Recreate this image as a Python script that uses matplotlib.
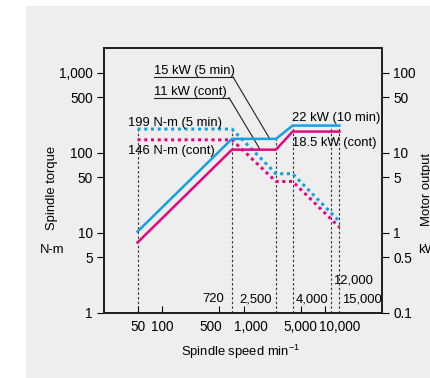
import numpy as np
import matplotlib.pyplot as plt
from matplotlib.patches import Rectangle
from matplotlib.transforms import ScaledTranslation

plt.rcParams['font.family'] = ['Liberation Sans', 'DejaVu Sans']
plt.rcParams['font.size'] = 9.4

BLUE = '#15a0e3'
PINK = '#e5077f'

# motor output (kW) vs spindle speed
speed = [50, 720, 2500, 4000, 15000]
power_5min = [1.04, 15, 15, 22, 22]
power_cont = [0.76, 11, 11, 18.5, 18.5]

# spindle torque (N-m) vs spindle speed
torque_5min = [199, 199, 55, 55, 14]
torque_cont = [146, 146, 44, 44, 11.8]

# dashed guide lines
guide_speed = [50, 720, 2500, 4000, 12000, 15000]
guide_top = [199, 199, 150, 220, 220, 220]

fig = plt.figure(figsize=(4.30, 3.78), dpi=100)
fig.patches.append(Rectangle((26 / 430, 0), 1, 372 / 378, transform=fig.transFigure,
                             facecolor='#eeeeee', edgecolor='none', zorder=-10))

ax = fig.add_axes([104 / 430, 65 / 378, 278 / 430, 265 / 378])
ax.set_facecolor('#eeeeee')
ax.set_xscale('log')
ax.set_yscale('log')
ax.set_xlim(19.4, 50000)
ax.set_ylim(1, 2050)

ax2 = ax.twinx()
ax2.set_yscale('log')
ax2.set_ylim(0.1, 205)

for s, top in zip(guide_speed, guide_top):
    ax.plot([s, s], [1, top], color='#333333', lw=0.8, ls=(0, (2.2, 2)), zorder=1)

ax.plot(speed, torque_5min, color=BLUE, lw=2.2, ls=(0, (1, 1.2)), zorder=3)
ax.plot(speed, torque_cont, color=PINK, lw=2.2, ls=(0, (1, 1.2)), zorder=3)
ax2.plot(speed, power_5min, color=BLUE, lw=1.8, zorder=4)
ax2.plot(speed, power_cont, color=PINK, lw=1.8, zorder=4)

xt = [50, 100, 500, 1000, 5000, 10000]
ax.set_xticks(xt)
ax.set_xticklabels(['50', '100', '500', '1,000', '5,000', '10,000'], fontsize=9.8)
ax.xaxis.set_minor_locator(plt.NullLocator())
ax.tick_params(axis='x', direction='in', length=5, width=0.8, pad=5)
# nudge crowded labels apart
nudge = {2: -8, 3: 7, 5: 15}
for i, lab in enumerate(ax.get_xticklabels()):
    if i in nudge:
        lab.set_transform(lab.get_transform() + ScaledTranslation(nudge[i] / 100, 0, fig.dpi_scale_trans))

yt = [1, 5, 10, 50, 100, 500, 1000]
ax.set_yticks(yt)
ax.set_yticklabels(['1', '5', '10', '50', '100', '500', '1,000'], fontsize=9.8)
ax.yaxis.set_minor_locator(plt.NullLocator())
ax.tick_params(axis='y', direction='out', length=5, width=0.8, pad=3)

yt2 = [0.1, 0.5, 1, 5, 10, 50, 100]
ax2.set_yticks(yt2)
ax2.set_yticklabels(['0.1', '0.5', '1', '5', '10', '50', '100'], fontsize=9.8)
ax2.yaxis.set_minor_locator(plt.NullLocator())
ax2.tick_params(axis='y', direction='out', length=5, width=0.8, pad=3)

for a in (ax, ax2):
    for sp in a.spines.values():
        sp.set_linewidth(1.4)
        sp.set_color('#222222')

# power labels with leaders
ax.text(80, 957, '15 kW (5 min)', ha='left', va='baseline')
ax.plot([80, 743], [891, 891], color='#222222', lw=0.8)
ax.plot([743, 2100], [891, 150], color='#222222', lw=0.8)
ax.text(80, 531, '11 kW (cont)', ha='left', va='baseline')
ax.plot([80, 664], [491, 491], color='#222222', lw=0.8)
ax.plot([664, 1600], [491, 110], color='#222222', lw=0.8)

ax.text(38.3, 219, '199 N-m (5 min)', ha='left', va='baseline')
ax.text(38.3, 97, '146 N-m (cont)', ha='left', va='baseline')
ax.text(3950, 251, '22 kW (10 min)', ha='left', va='baseline')
ax.text(3950, 123, '18.5 kW (cont)', ha='left', va='baseline')

ax.text(580, 1.37, '720', ha='right', va='baseline')
ax.text(880, 1.37, '2,500', ha='left', va='baseline')
ax.text(4400, 1.37, '4,000', ha='left', va='baseline')
ax.text(12500, 2.37, '12,000', ha='left', va='baseline')
ax.text(16200, 1.37, '15,000', ha='left', va='baseline')

fig.text(52 / 430, 1 - 188 / 378, 'Spindle torque', rotation=90, ha='center', va='center')
fig.text(52 / 430, 1 - 250 / 378, 'N-m', ha='center', va='center')
fig.text(427 / 430, 1 - 190 / 378, 'Motor output', rotation=90, ha='center', va='center')
fig.text(418 / 430, 1 - 250 / 378, 'kW', ha='left', va='center')
fig.text(241 / 430, 1 - 352 / 378, 'Spindle speed min$^{\\mathregular{-1}}$', ha='center', va='center')

fig.savefig('out.png', dpi=100, facecolor='white')
